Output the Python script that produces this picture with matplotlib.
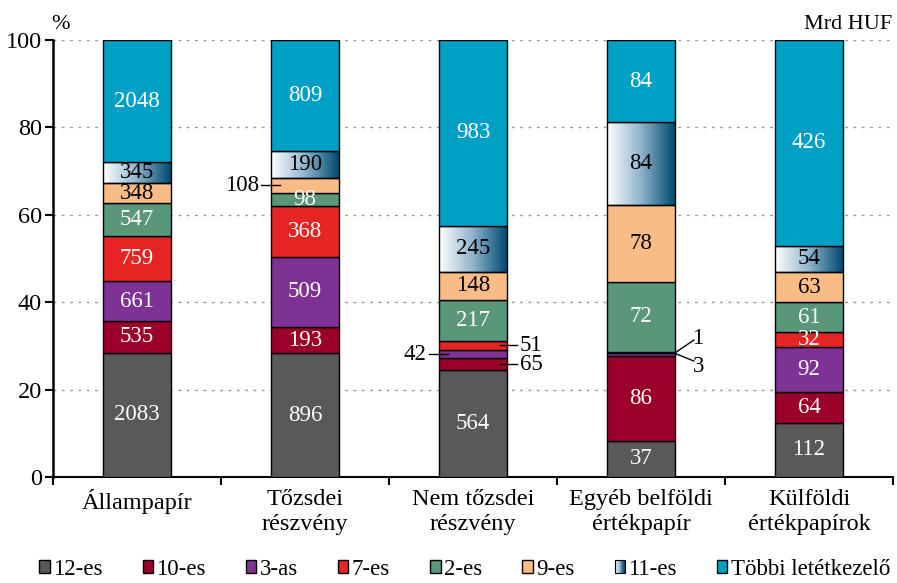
import matplotlib
matplotlib.use("Agg")
import matplotlib.pyplot as plt
import numpy as np
from matplotlib.colors import LinearSegmentedColormap
from matplotlib.patches import Rectangle
from matplotlib.legend_handler import HandlerBase

plt.rcParams['font.family'] = ['Liberation Serif', 'DejaVu Serif']

categories = ['Állampapír', 'Tőzsdei\nrészvény', 'Nem tőzsdei\nrészvény',
              'Egyéb belföldi\nértékpapír', 'Külföldi\nértékpapírok']
series_names = ['12-es', '10-es', '3-as', '7-es', '2-es', '9-es', '11-es', 'Többi letétkezelő']

# Mrd HUF per category
s12 = [2083, 896, 564, 37, 112]
s10 = [535, 193, 65, 86, 64]
s3 = [661, 509, 42, 3, 92]
s7 = [759, 368, 51, 1, 32]
s2 = [547, 98, 217, 72, 61]
s9 = [348, 108, 148, 78, 63]
s11 = [345, 190, 245, 84, 54]
s_other = [2048, 809, 983, 84, 426]

values = np.array([s12, s10, s3, s7, s2, s9, s11, s_other], dtype=float)
pct = values / values.sum(axis=0) * 100

colors = ['#595959', '#9B0029', '#7D3294', '#E42523', '#5A967A', '#F9BC86', None, '#00A0C6']
text_colors = ['white', 'white', 'white', 'white', 'white', 'black', 'black', 'white']
grad_cmap = LinearSegmentedColormap.from_list('grad', ['#FFFFFF', '#8FB4CC', '#004A70'])

fig = plt.figure(figsize=(8.97, 5.83), dpi=100)
ax = fig.add_axes([0.059, 0.182, 0.9365, 0.7494])

x = np.arange(len(categories))
width = 0.4
bottom = np.zeros(len(categories))
containers = []
for i, name in enumerate(series_names):
    if colors[i] is None:
        bars = ax.bar(x, pct[i], width, bottom=bottom, facecolor='none',
                      edgecolor='black', linewidth=1, zorder=3, label=name)
        for p in bars:
            im = ax.imshow(np.linspace(0, 1, 256).reshape(1, -1), cmap=grad_cmap,
                           extent=(p.get_x(), p.get_x() + p.get_width(),
                                   p.get_y(), p.get_y() + p.get_height()),
                           aspect='auto', zorder=2)
            im.set_clip_path(p)
    else:
        bars = ax.bar(x, pct[i], width, bottom=bottom, color=colors[i],
                      edgecolor='black', linewidth=1, zorder=3, label=name)
    containers.append(bars)
    bottom = bottom + pct[i]

# small segments labelled outside the bar
outside = {(5, 1): 'left', (2, 2): 'left', (3, 2): 'right', (1, 2): 'right',
           (2, 3): 'v', (3, 3): 'v'}
fs = 16.5

cum = np.vstack([np.zeros(len(categories)), np.cumsum(pct, axis=0)])
for i in range(len(series_names)):
    for j in range(len(categories)):
        mid = (cum[i, j] + cum[i + 1, j]) / 2
        lab = f"{int(values[i, j])}"
        side = outside.get((i, j))
        if side is None:
            ax.text(x[j], mid, lab, ha='center', va='center', fontsize=fs,
                    color=text_colors[i], zorder=5)
        elif side == 'left':
            x0 = x[j] - width / 2
            ax.plot([x0 - 0.06, x0 + 0.05], [mid, mid], color='black', lw=1, zorder=5)
            ax.text(x0 - 0.075, mid, lab, ha='right', va='center', fontsize=fs, zorder=5)
        elif side == 'right':
            x1 = x[j] + width / 2
            ax.plot([x1 - 0.04, x1 + 0.06], [mid, mid], color='black', lw=1, zorder=5)
            ax.text(x1 + 0.08, mid, lab, ha='left', va='center', fontsize=fs, zorder=5)

# V-shaped leaders for the two tiny segments of the 4th bar
j = 3
x1 = x[j] + width / 2
vy = cum[3, j]
ax.plot([x1 + 0.115, x1, x1 + 0.115], [vy + 3.0, vy, vy - 1.8], color='black', lw=1,
        zorder=5, clip_on=False)
ax.text(x1 + 0.14, vy + 3.4, f"{int(values[3, j])}", ha='center', va='center', fontsize=fs)
ax.text(x1 + 0.14, vy - 3.0, f"{int(values[2, j])}", ha='center', va='center', fontsize=fs)

ax.set_xlim(-0.5, 4.5)
ax.set_ylim(0, 100)
ax.set_yticks(np.arange(0, 101, 20))
ax.set_xticks(x)
ax.set_xticklabels(categories, fontsize=17.5, linespacing=1.25)
ax.set_xticks(np.arange(-0.5, 4.6, 1), minor=True)
ax.tick_params(axis='x', which='major', length=0, pad=9)
ax.tick_params(axis='x', which='minor', length=6, width=1.5, direction='out')
ax.tick_params(axis='y', length=6, width=1.5, direction='out', labelsize=17.5, pad=2)
for side in ['top', 'right']:
    ax.spines[side].set_visible(False)
ax.spines['left'].set_linewidth(1.8)
ax.spines['bottom'].set_linewidth(1.5)
ax.set_axisbelow(True)
ax.yaxis.grid(True, linestyle=(0, (2, 4)), color='#999999', lw=1, zorder=0)

fig.text(0.068, 0.958, '%', fontsize=16, ha='center', va='center')
fig.text(0.995, 0.958, 'Mrd HUF', fontsize=16, ha='right', va='center')


class GradientHandler(HandlerBase):
    def create_artists(self, legend, orig_handle, xdescent, ydescent, width, height, fontsize, trans):
        n = 12
        arts = []
        for k in range(n):
            arts.append(Rectangle((-xdescent + k * width / n, -ydescent), width / n, height,
                                  facecolor=grad_cmap(k / (n - 1)), edgecolor='none', transform=trans))
        arts.append(Rectangle((-xdescent, -ydescent), width, height, facecolor='none',
                              edgecolor='black', lw=0.8, transform=trans))
        return arts


handles = [c.patches[0] for c in containers]
handler_map = {handles[6]: GradientHandler()}
leg = fig.legend(handles, series_names, loc='center', bbox_to_anchor=(0.518, 0.024),
                 ncol=8, frameon=False, fontsize=16.5, handlelength=0.45, handleheight=0.45,
                 handletextpad=0.15, columnspacing=1.75, handler_map=handler_map,
                 borderaxespad=0, borderpad=0)

fig.savefig('out.png', dpi=100)
